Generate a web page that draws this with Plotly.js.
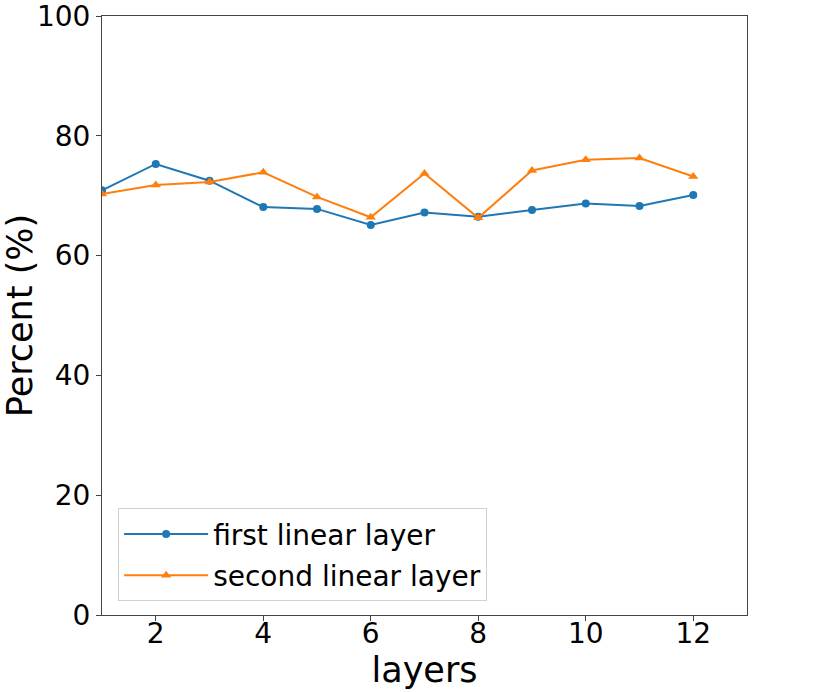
<!DOCTYPE html>
<html>
<head>
<meta charset="utf-8">
<script src="https://cdn.plot.ly/plotly-3.0.1.min.js"></script>
<style>html,body{margin:0;padding:0;background:#fff;}#chart{width:830px;height:692px;}</style>
</head>
<body>
<div id="chart"></div>
<script>
const layers = [1,2,3,4,5,6,7,8,9,10,11,12];
const firstLinear = [70.9,75.3,72.5,68.1,67.8,65.1,67.2,66.5,67.6,68.7,68.3,70.1];
const secondLinear = [70.3,71.8,72.3,73.9,69.8,66.4,73.7,66.3,74.2,76.0,76.3,73.2];
const seriesNames = ["first linear layer","second linear layer"];
const xTicks = [2,4,6,8,10,12];
const yTicks = [0,20,40,60,80,100];

const font = "DejaVu Sans, sans-serif";
const traces = [
  {x: layers, y: firstLinear, name: seriesNames[0], mode: "lines+markers", legendgroup: "a",
   line: {color: "#1f77b4", width: 2}, marker: {symbol: "circle", size: 8, color: "#1f77b4"}},
  {x: layers, y: secondLinear, name: seriesNames[1], mode: "lines+markers", legendgroup: "b",
   line: {color: "#ff7f0e", width: 2}, marker: {symbol: "triangle-up", size: 9, color: "#ff7f0e"}}
];
const layout = {
  width: 830, height: 692,
  margin: {l: 102, r: 83, t: 16, b: 77},
  paper_bgcolor: "#fff", plot_bgcolor: "#fff",
  font: {family: font, color: "#000", size: 28},
  showlegend: true,
  legend: {x: 0.025, y: 0.023, xanchor: "left", yanchor: "bottom",
    bordercolor: "#d0d0d0", borderwidth: 1, bgcolor: "rgba(255,255,255,0.8)",
    font: {size: 28, family: font}, tracegroupgap: 2, traceorder: "grouped", itemwidth: 84},
  xaxis: {range: [1, 13], tickvals: xTicks, ticktext: xTicks.map(String),
    showgrid: false, zeroline: false, showline: true, mirror: true, linecolor: "#444", linewidth: 1,
    ticks: "outside", ticklen: 5, tickcolor: "#444", tickfont: {size: 28},
    ticklabelstandoff: -12, ticklabeloverflow: "allow",
    title: {text: "layers", font: {size: 35}, standoff: 2}},
  yaxis: {range: [0, 100], tickvals: yTicks, ticktext: yTicks.map(String),
    showgrid: false, zeroline: false, showline: true, mirror: true, linecolor: "#444", linewidth: 1,
    ticks: "outside", ticklen: 5, tickcolor: "#444", tickfont: {size: 28},
    ticklabeloverflow: "allow",
    title: {text: "Percent (%)", font: {size: 35}, standoff: 6}}
};
Plotly.newPlot("chart", traces, layout, {displayModeBar: false, staticPlot: true});
</script>
</body>
</html>
